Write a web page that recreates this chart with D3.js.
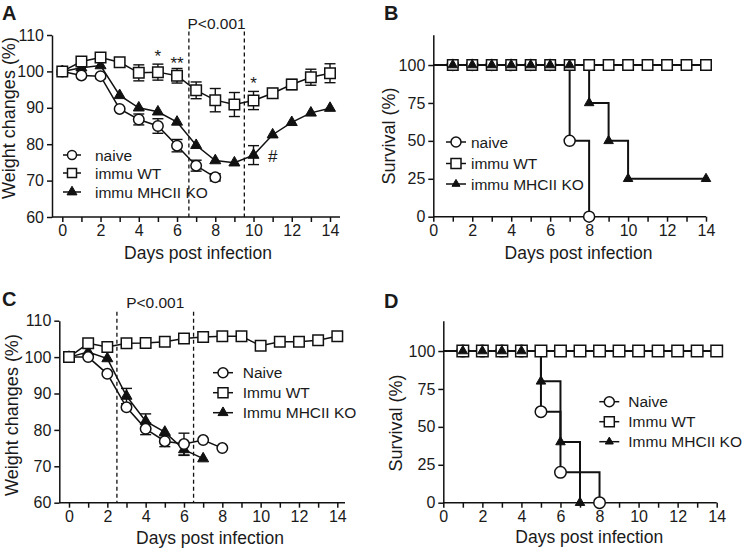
<!DOCTYPE html>
<html><head><meta charset="utf-8">
<script src="https://cdn.jsdelivr.net/npm/d3@7"></script>
<style>
body{margin:0;background:#fff}
text{font-family:"Liberation Sans",Arial,sans-serif;fill:#1a1a1a}
</style>
</head><body>
<svg id="c" width="742" height="550"></svg>
<script>
// ---------- DATA ----------
const days = d3.range(0, 15);
const yTicksWeight = [60, 70, 80, 90, 100, 110];
const yTicksSurv = [0, 25, 50, 75, 100];

// Panel A : weight changes (%)
const aNaive    = [100, 98.9, 98.7, 89.7, 86.8, 85.0, 79.6, 74.1, 70.9];
const aNaiveErr = [0, 0, 0, 0, 1.5, 2.0, 1.7, 1.5, 1.0];
const aWT       = [100, 102.7, 103.8, 102.5, 99.6, 99.8, 98.8, 94.8, 92.1, 90.9, 92.0, 94.0, 96.4, 98.4, 99.5];
const aWTErr    = [0, 0, 0, 0, 2.2, 2.2, 2.0, 2.3, 3.2, 3.3, 2.5, 1.3, 1.4, 2.2, 2.6];
const aKO       = [100, 101.0, 101.6, 93.4, 90.0, 88.9, 86.1, 79.7, 75.5, 74.9, 77.0, 82.6, 86.0, 88.6, 89.9];
const aKOErr    = [0, 0, 0, 0, 0, 0, 0, 0, 0, 0, 2.6, 0, 0, 0, 0];
const aPBand    = [6.62, 9.52];
const aMarks    = [{day: 5, v: 102.7, t: "*"}, {day: 6, v: 100.7, t: "**"}, {day: 10, v: 95.2, t: "*"}, {day: 11, v: 75.2, t: "#"}];

// Panel B : survival (%)
const bNaiveStep = [[0, 100], [7, 50], [8, 0]];
const bNaiveDays = [1, 2, 3, 4, 5, 6, 7, 8];
const bNaiveVals = [100, 100, 100, 100, 100, 100, 50, 0];
const bWTStep    = [[0, 100], [14, 100]];
const bWTDays    = d3.range(1, 15);
const bWTVals    = bWTDays.map(() => 100);
const bKOStep    = [[0, 100], [8, 75], [9, 50], [10, 25], [14, 25]];
const bKODays    = [1, 2, 3, 4, 5, 6, 7, 8, 9, 10, 14];
const bKOVals    = [100, 100, 100, 100, 100, 100, 100, 75, 50, 25, 25];

// Panel C : weight changes (%)
const cNaive    = [100, 100, 95.4, 86.2, 80.3, 76.9, 76.1, 77.2, 75.0];
const cNaiveErr = [0, 0, 0, 0, 1.6, 1.5, 3.0, 0, 0];
const cWT       = [100, 103.8, 102.8, 103.8, 103.9, 104.2, 105.1, 105.5, 105.7, 105.7, 103.1, 104.2, 104.2, 104.6, 105.7];
const cKO       = [100, 101.4, 99.6, 89.3, 82.4, 79.4, 74.6, 72.1];
const cKOErr    = [0, 0, 0, 2.1, 2.0, 0, 1.6, 0];
const cPBand    = [2.5, 6.5];

// Panel D : survival (%)
const dNaiveStep = [[0, 100], [5, 60], [6, 20], [8, 0]];
const dNaiveDays = [1, 2, 3, 4, 5, 6, 8];
const dNaiveVals = [100, 100, 100, 100, 60, 20, 0];
const dWTStep    = [[0, 100], [14, 100]];
const dWTDays    = d3.range(1, 15);
const dWTVals    = dWTDays.map(() => 100);
const dKOStep    = [[0, 100], [5, 80], [6, 40], [7, 0]];
const dKODays    = [1, 2, 3, 4, 5, 6, 7];
const dKOVals    = [100, 100, 100, 100, 80, 40, 0];

const labelsLower = ["naive", "immu WT", "immu MHCII KO"];
const labelsUpper = ["Naive", "Immu WT", "Immu MHCII KO"];

// ---------- HELPERS ----------
const svg = d3.select("#c");
const INK = "#111";
const TXT = "#1a1a1a";
const FF = '"Liberation Sans",Arial,sans-serif';
const FONT_TICK = 16, FONT_TITLE = 17.5;

function symPath(type, s) {
  if (type === "circle") return d3.symbol(d3.symbolCircle, Math.PI * (s / 2) * (s / 2))();
  if (type === "square") return d3.symbol(d3.symbolSquare, s * s)();
  return d3.symbol(d3.symbolTriangle, Math.sqrt(3) / 4 * s * s)();
}
function marker(g, type, s, cx, cy) {
  g.append("path").attr("d", symPath(type, s))
    .attr("transform", `translate(${cx},${cy})`)
    .attr("fill", type === "triangle" ? INK : "#fff")
    .attr("stroke", INK).attr("stroke-width", type === "triangle" ? 1 : 1.5);
}
function txt(g) {
  return g.append("text").attr("fill", TXT).attr("font-family", FF);
}

function axes(g, x, y, o) {
  const ya = g.append("g").attr("transform", `translate(${o.yAxisX},0)`)
    .call(d3.axisLeft(y).tickValues(o.yTicks).tickSize(5).tickPadding(3).tickSizeOuter(0));
  const x0 = y.range()[0];
  const xa = g.append("g").attr("transform", `translate(0,${x0})`)
    .call(d3.axisBottom(x).tickValues(days).tickSize(5).tickPadding(3).tickSizeOuter(0)
      .tickFormat(d => d % 2 ? "" : d));
  xa.select(".domain").attr("d", `M${o.yAxisX},0H${o.xEnd}`);
  [ya, xa].forEach(a => {
    a.selectAll("path,line").attr("stroke", INK).attr("stroke-width", 1.5);
    a.selectAll("text").attr("font-size", FONT_TICK).attr("fill", TXT).attr("font-family", FF);
  });
  txt(g).attr("x", o.xTitleX).attr("y", o.xTitleY).attr("text-anchor", "middle")
    .attr("font-size", FONT_TITLE).text("Days post infection");
  txt(g).attr("transform", `translate(${o.yTitleX},${o.yTitleY}) rotate(-90)`)
    .attr("text-anchor", "middle").attr("font-size", 18).text(o.yTitle);
  txt(g).attr("x", o.labX).attr("y", o.labY).attr("font-size", 20)
    .attr("font-weight", "bold").text(o.lab);
}

function series(g, x, y, dd, vals, errs) {
  const pts = vals.map((v, i) => [dd[i], v, errs ? errs[i] : 0]);
  g.append("path").datum(pts)
    .attr("d", d3.line().x(d => x(d[0])).y(d => y(d[1])))
    .attr("fill", "none").attr("stroke", INK).attr("stroke-width", 1.5);
  return pts;
}
function errorBars(g, x, y, pts) {
  pts.filter(p => p[2] > 0).forEach(p => {
    const cx = x(p[0]);
    g.append("line").attr("x1", cx).attr("x2", cx).attr("y1", y(p[1] - p[2])).attr("y2", y(p[1] + p[2]))
      .attr("stroke", INK).attr("stroke-width", 1.4);
    [p[1] - p[2], p[1] + p[2]].forEach(v =>
      g.append("line").attr("x1", cx - 5.5).attr("x2", cx + 5.5).attr("y1", y(v)).attr("y2", y(v))
        .attr("stroke", INK).attr("stroke-width", 1.4));
  });
}
function markers(g, x, y, pts, type, s) {
  pts.forEach(p => marker(g, type, s, x(p[0]), y(p[1])));
}
function steps(g, x, y, st) {
  g.append("path").datum(st)
    .attr("d", d3.line().curve(d3.curveStepAfter).x(d => x(d[0])).y(d => y(d[1])))
    .attr("fill", "none").attr("stroke", INK).attr("stroke-width", 2);
}
function legend(g, cx, tx, ys, labels, sizes, half) {
  const types = ["circle", "square", "triangle"];
  types.forEach((t, i) => {
    g.append("line").attr("x1", cx - half).attr("x2", cx + half).attr("y1", ys[i]).attr("y2", ys[i])
      .attr("stroke", INK).attr("stroke-width", 1.5);
    marker(g, t, sizes[i], cx, ys[i]);
    txt(g).attr("x", tx).attr("y", ys[i]).attr("dy", "0.36em")
      .attr("font-size", 15.5).text(labels[i]);
  });
}
function pband(g, x, y, band, topY, textY) {
  band.forEach(b => g.append("line").attr("x1", x(b)).attr("x2", x(b))
    .attr("y1", topY).attr("y2", y.range()[0])
    .attr("stroke", INK).attr("stroke-width", 1.3).attr("stroke-dasharray", "4,3"));
  txt(g).attr("x", (x(band[0]) + x(band[1])) / 2).attr("y", textY)
    .attr("text-anchor", "middle").attr("font-size", 15.5).text("P<0.001");
}

// ---------- PANEL A ----------
{
  const g = svg.append("g");
  const x = d3.scaleLinear().domain([0, 14]).range([62.3, 330]);
  const y = d3.scaleLinear().domain([60, 110]).range([217, 35]);
  axes(g, x, y, {yAxisX: 52, xEnd: 340, yTicks: yTicksWeight, xTitleX: 198, xTitleY: 259,
    yTitleX: 15, yTitleY: 118, yTitle: "Weight changes (%)", lab: "A", labX: 2, labY: 20});
  pband(g, x, y, aPBand, 31.5, 28.5);
  const pn = series(g, x, y, days, aNaive, aNaiveErr);
  const pw = series(g, x, y, days, aWT, aWTErr);
  const pk = series(g, x, y, days, aKO, aKOErr);
  errorBars(g, x, y, pn); errorBars(g, x, y, pw); errorBars(g, x, y, pk);
  markers(g, x, y, pk, "triangle", 11);
  markers(g, x, y, pn, "circle", 10.5);
  markers(g, x, y, pw, "square", 10.5);
  aMarks.forEach(m => txt(g).attr("x", x(m.day)).attr("y", y(m.v))
    .attr("text-anchor", "middle").attr("font-size", 17).text(m.t));
  legend(g, 72, 95, [155, 173, 192], labelsLower, [9, 9, 10], 9);
}

// ---------- PANEL B ----------
{
  const g = svg.append("g");
  const x = d3.scaleLinear().domain([0, 14]).range([433.3, 706]);
  const y = d3.scaleLinear().domain([0, 120]).range([216.7, 34.7]);
  axes(g, x, y, {yAxisX: 433.3, xEnd: 706, yTicks: yTicksSurv, xTitleX: 578.5, xTitleY: 259.3,
    yTitleX: 395, yTitleY: 136, yTitle: "Survival (%)", lab: "B", labX: 384, labY: 20});
  steps(g, x, y, bWTStep); steps(g, x, y, bNaiveStep); steps(g, x, y, bKOStep);
  const ptsOf = (dd, vv) => dd.map((d, i) => [d, vv[i], 0]);
  markers(g, x, y, ptsOf(bNaiveDays, bNaiveVals), "circle", 11);
  markers(g, x, y, ptsOf(bWTDays, bWTVals), "square", 10.5);
  markers(g, x, y, ptsOf(bKODays, bKOVals), "triangle", 9.5);
  legend(g, 456, 471, [142, 163.5, 184], labelsLower, [10, 10, 8], 10);
}

// ---------- PANEL C ----------
{
  const g = svg.append("g");
  const x = d3.scaleLinear().domain([0, 14]).range([69, 337.3]);
  const y = d3.scaleLinear().domain([60, 110]).range([502.7, 320.7]);
  axes(g, x, y, {yAxisX: 59.3, xEnd: 345, yTicks: yTicksWeight, xTitleX: 210, xTitleY: 544.3,
    yTitleX: 18, yTitleY: 415, yTitle: "Weight changes (%)", lab: "C", labX: 2, labY: 306});
  pband(g, x, y, cPBand, 311.7, 307.7);
  const pn = series(g, x, y, days, cNaive, cNaiveErr);
  const pw = series(g, x, y, days, cWT, null);
  const pk = series(g, x, y, days, cKO, cKOErr);
  errorBars(g, x, y, pn); errorBars(g, x, y, pk);
  markers(g, x, y, pk, "triangle", 11);
  markers(g, x, y, pn, "circle", 10.5);
  markers(g, x, y, pw, "square", 10.5);
  legend(g, 223, 242.7, [372.7, 392.7, 412.7], labelsUpper, [10, 10, 10], 10);
}

// ---------- PANEL D ----------
{
  const g = svg.append("g");
  const x = d3.scaleLinear().domain([0, 14]).range([443.3, 716.7]);
  const y = d3.scaleLinear().domain([0, 120]).range([502.7, 320.7]);
  axes(g, x, y, {yAxisX: 443.3, xEnd: 716.7, yTicks: yTicksSurv, xTitleX: 589.3, xTitleY: 543.3,
    yTitleX: 402, yTitleY: 423, yTitle: "Survival (%)", lab: "D", labX: 384, labY: 308});
  steps(g, x, y, dWTStep); steps(g, x, y, dNaiveStep); steps(g, x, y, dKOStep);
  const ptsOf = (dd, vv) => dd.map((d, i) => [d, vv[i], 0]);
  markers(g, x, y, ptsOf(dNaiveDays, dNaiveVals), "circle", 11.5);
  markers(g, x, y, ptsOf(dWTDays, dWTVals), "square", 11.5);
  markers(g, x, y, ptsOf(dKODays, dKOVals), "triangle", 9.5);
  legend(g, 609.3, 628.3, [401.7, 421.7, 441.7], labelsUpper, [10, 10, 8], 10);
}
</script>
</body></html>
